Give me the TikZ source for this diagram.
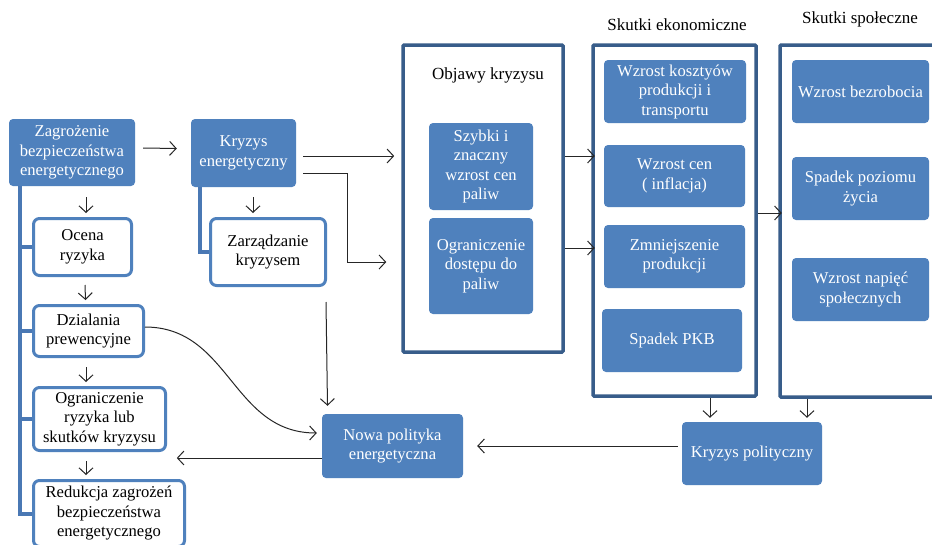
\documentclass[tikz,border=0pt]{standalone}
\usepackage{fontspec}
\setmainfont{Liberation Serif}
\usetikzlibrary{arrows.meta,calc}
\definecolor{boxblue}{HTML}{4F81BD}
\definecolor{frameblue}{HTML}{385D8A}
\definecolor{barblue}{HTML}{4A78B4}
\tikzset{
  sz/.style 2 args={minimum width=#1pt,minimum height=#2pt},
  bluebox/.style={fill=boxblue, rounded corners=4pt, text=white, align=center, inner sep=0pt, font=\fontsize{16.6}{19.5}\selectfont},
  whitebox/.style={draw=boxblue, line width=3pt, fill=white, rounded corners=6pt, text=black, align=center, inner sep=0pt, font=\fontsize{16.6}{19.5}\selectfont},
  framebox/.style={draw=frameblue, line width=3.5pt, rounded corners=1pt, inner sep=0pt},
  titletext/.style={font=\fontsize{17}{19}\selectfont, text=black, inner sep=0pt},
  arr/.style={draw=black!85, line width=1pt, -{Straight Barb[length=6.5pt,width=14pt]}},
  bar/.style={draw=barblue, line width=4pt},
}
\begin{document}
\begin{tikzpicture}[x=1pt,y=-1pt]
\clip (0,0) rectangle (932,544);
\fill[white] (0,0) rectangle (932,544);

% frames
\node[framebox, sz={160}{307}] (objawy) at (483,198.5) {};
\node[framebox, sz={163}{351}] (ekon) at (674.5,220.5) {};
\node[framebox, sz={165}{352}] (spol) at (862.5,221) {};
\node[titletext] (tobj) at (488,75) {Objawy kryzysu};
\node[titletext] (tekon) at (677,25) {Skutki ekonomiczne};
\node[titletext] (tspol) at (860,19) {Skutki społeczne};

% left column
\node[bluebox, sz={126}{67}] (zag) at (72,152.5) {Zagrożenie\\bezpieczeństwa\\energetycznego};
\node[bluebox, sz={105}{68}] (kryz) at (243.5,153) {Kryzys\\energetyczny};
\node[whitebox, sz={98}{57}] (ocena) at (82.5,247) {Ocena\\ryzyka};
\node[whitebox, sz={110}{51}] (dzial) at (88.5,331) {Dzialania\\prewencyjne};
\node[whitebox, sz={132}{63}] (ogr) at (99.5,419) {Ograniczenie\\ryzyka lub\\skutków kryzysu};
\node[whitebox, sz={151}{66}] (red) at (109,513.5) {Redukcja zagrożeń\\bezpieczeństwa\\energetycznego};
\node[whitebox, sz={115}{67}] (zarz) at (268,252) {Zarządzanie\\kryzysem};

% objawy
\node[bluebox, sz={104}{87}] (szybki) at (481,166.5) {Szybki i\\znaczny\\wzrost cen\\paliw};
\node[bluebox, sz={104}{96}] (ogrd) at (481,266) {Ograniczenie\\dostępu do\\paliw};

% skutki ekonomiczne
\node[bluebox, sz={142}{63}] (wk) at (675,91.5) {Wzrost kosztyów\\produkcji i\\transportu};
\node[bluebox, sz={141}{62}] (wc) at (674.5,176) {Wzrost cen\\( inflacja)};
\node[bluebox, sz={141}{63}] (zm) at (674.5,256.5) {Zmniejszenie\\produkcji};
\node[bluebox, sz={140}{63}] (pkb) at (672,340.5) {Spadek PKB};

% skutki spoleczne
\node[bluebox, sz={137}{63}] (wb) at (860.5,91.5) {Wzrost bezrobocia};
\node[bluebox, sz={137}{63}] (sp) at (860.5,188.5) {Spadek poziomu\\życia};
\node[bluebox, sz={137}{63}] (wn) at (860.5,289.5) {Wzrost napięć\\społecznych};

% bottom
\node[bluebox, sz={141}{64}] (nowa) at (392.5,446) {Nowa polityka\\energetyczna};
\node[bluebox, sz={140}{63}] (kpol) at (752,453.5) {Kryzys polityczny};

% bars
\coordinate (bartop) at (20,186);
\draw[bar] (bartop) |- (red.west);
\draw[bar] (ocena.west -| bartop) -- (ocena.west);
\draw[bar] (dzial.west -| bartop) -- (dzial.west);
\draw[bar] (ogr.west -| bartop) -- (ogr.west);
\coordinate (kbar) at (200,187);
\draw[bar] (kbar) |- (zarz.west);

% arrows
\draw[arr] ($(zag.east)+(8,-4.5)$) -- ($(kryz.west)+(-14,-4.5)$);
\draw[arr] ($(zag.south)+(14,11)$) -- ($(ocena.north)+(3.5,-4)$);
\draw[arr] ($(kryz.south)+(9.5,10)$) -- ($(zarz.north)+(-15,-4)$);
\draw[arr] ($(ocena.south)+(2.5,8)$) -- ($(dzial.north)+(-3,-4)$);
\draw[arr] ($(dzial.south)+(-2.5,9)$) -- ($(ogr.north)+(-13.5,-4)$);
\draw[arr] ($(ogr.south)+(-13.5,9)$) -- ($(red.north)+(-23,-4)$);

\draw[arr] ($(kryz.east)+(7,3)$) -- ++(91,0);
\draw[arr] ($(kryz.east)+(7,20)$) -- ++(44,0) |- ($(objawy.west)+(-15,63.5)$);

\draw[arr] ($(objawy.east)+(0,-42.5)$) -- ++(30,0);
\draw[arr] ($(objawy.east)+(0,49.5)$) -- ++(30,0);
\draw[arr] ($(ekon.east)+(0,-7.5)$) -- ++(24,0);

\draw[arr] ($(ekon.south)+(35.5,0)$) -- ($(kpol.north)+(-42,-4)$);
\draw[arr] ($(spol.south)+(-55.5,0)$) -- ($(kpol.north)+(55,-4)$);
\draw[arr] ($(kpol.west)+(-4,-7.5)$) -- ($(nowa.east)+(14,0)$);
\draw[arr] ($(nowa.west)+(0,12)$) -- ++(-145,0);

\draw[arr] ($(dzial.east)+(0,-4)$) .. controls +(85,0) and +(-85,0) .. ($(nowa.west)+(-5,-13)$);
\draw[arr] ($(zarz.south)+(58,15)$) -- ($(nowa.north)+(-65,-8)$);
\end{tikzpicture}
\end{document}
